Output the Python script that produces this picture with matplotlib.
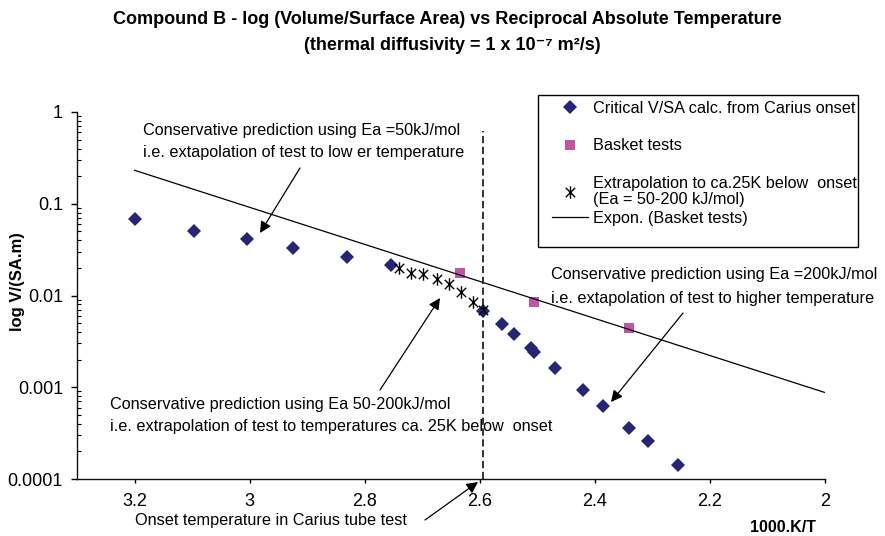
import numpy as np
import matplotlib
matplotlib.use('Agg')
import matplotlib.pyplot as plt
from matplotlib.path import Path
from matplotlib.patches import Rectangle
from matplotlib.ticker import FixedLocator, LogLocator, NullFormatter

plt.rcParams['font.family'] = ['Liberation Sans', 'DejaVu Sans']

# ---------------- data ----------------
carius_x = [3.200, 3.097, 3.005, 2.925, 2.831, 2.755, 2.594, 2.562, 2.541,
            2.511, 2.506, 2.470, 2.420, 2.385, 2.340, 2.308, 2.255]
carius_y = [0.068, 0.051, 0.041, 0.0327, 0.026, 0.0213, 0.0067, 0.0049,
            0.00385, 0.0027, 0.00244, 0.00163, 0.00094, 0.00063, 0.00036,
            0.00026, 0.000142]

basket_x = [2.635, 2.506, 2.341]
basket_y = [0.0174, 0.0086, 0.0044]

extrap_x = [2.741, 2.720, 2.698, 2.675, 2.654, 2.633, 2.611, 2.594]
extrap_y = [0.0197, 0.0178, 0.0170, 0.0150, 0.0135, 0.0108, 0.0084, 0.0069]

trend_x_range = [3.2, 2.0]
onset_x = 2.594

x_ticks = [3.2, 3.0, 2.8, 2.6, 2.4, 2.2, 2.0]
x_tick_labels = ['3.2', '3', '2.8', '2.6', '2.4', '2.2', '2']
y_ticks = [1, 0.1, 0.01, 0.001, 0.0001]
y_tick_labels = ['1', '0.1', '0.01', '0.001', '0.0001']

legend_labels = ['Critical V/SA calc. from Carius onset',
                 'Basket tests',
                 'Extrapolation to ca.25K below  onset\n(Ea = 50-200 kJ/mol)',
                 'Expon. (Basket tests)']

# ---------------- figure ----------------
W, H = 885, 536
fig = plt.figure(figsize=(W / 100, H / 100), dpi=100)
fig.patch.set_facecolor('white')


def fx(px):
    return px / W


def fy(py):
    return 1 - py / H


ax = fig.add_axes([fx(77), fy(479), (825 - 77) / W, (479 - 112) / H])

# exponential trendline fitted to basket tests
coef = np.polyfit(basket_x, np.log(basket_y), 1)
tx = np.linspace(trend_x_range[0], trend_x_range[1], 50)
ty = np.exp(np.polyval(coef, tx))

star_path = Path([(0, -1), (0, 1), (-0.75, -0.75), (0.75, 0.75),
                  (-0.75, 0.75), (0.75, -0.75)],
                 [Path.MOVETO, Path.LINETO, Path.MOVETO, Path.LINETO,
                  Path.MOVETO, Path.LINETO])

h1, = ax.plot(carius_x, carius_y, linestyle='none', marker='D',
              markersize=6.8, color='#262673', markeredgewidth=0)
h2, = ax.plot(basket_x, basket_y, linestyle='none', marker='s',
              markersize=6.5, color='#BE55A5', markeredgewidth=0)
h3, = ax.plot(extrap_x, extrap_y, linestyle='none', marker=star_path,
              markersize=9, markerfacecolor='none', markeredgecolor='black',
              markeredgewidth=1.0)
h4, = ax.plot(tx, ty, color='black', linewidth=0.9)

ax.plot([onset_x, onset_x], [1e-4, 0.62], color='#222222', linewidth=1.3,
        linestyle=(0, (4, 2)))

ax.set_yscale('log')
ax.set_xlim(3.3, 2.0)
ax.set_ylim(1e-4, 1)

ax.xaxis.set_major_locator(FixedLocator(x_ticks))
ax.set_xticklabels(x_tick_labels)
ax.yaxis.set_major_locator(FixedLocator(y_ticks))
ax.set_yticklabels(y_tick_labels)
ax.yaxis.set_minor_locator(LogLocator(base=10, subs=np.arange(2, 10)))
ax.yaxis.set_minor_formatter(NullFormatter())

ax.tick_params(axis='x', which='major', direction='out', length=3,
               width=1, labelsize=13, pad=7)
ax.tick_params(axis='y', which='major', direction='out', length=4,
               width=1, labelsize=13, pad=6)
ax.tick_params(axis='y', which='minor', direction='in', length=3, width=0.8)

for s in ['top', 'right']:
    ax.spines[s].set_visible(False)
for s in ['left', 'bottom']:
    ax.spines[s].set_linewidth(1.0)
    ax.spines[s].set_color('#111111')

ax.set_ylabel('log V/(SA.m)', fontsize=12, fontweight='bold')
ax.yaxis.set_label_coords((25 - 77) / (825 - 77), (479 - 282) / (479 - 112))

fig.text(fx(783), fy(528), '1000.K/T', fontsize=11.5, fontweight='bold',
         ha='center', va='center')

# titles
fig.text(fx(447), fy(20),
         'Compound B - log (Volume/Surface Area) vs Reciprocal Absolute Temperature',
         fontsize=13, fontweight='bold', ha='center', va='center')
fig.text(fx(452), fy(46),
         '(thermal diffusivity = 1 x 10\u207b\u2077 m\u00b2/s)',
         fontsize=13, fontweight='bold', ha='center', va='center')

# legend (frame drawn separately to match the reference box)
fig.add_artist(Rectangle((fx(538), fy(247)), (858 - 538) / W, (247 - 95) / H,
                         transform=fig.transFigure, fill=False,
                         edgecolor='black', linewidth=1.0))
leg_kw = dict(loc='upper left', fontsize=11.7, frameon=False, borderpad=0,
              borderaxespad=0, handlelength=2.2, handletextpad=0.3)
legA = fig.legend([h1, h2, h3], legend_labels[:3],
                  bbox_to_anchor=(fx(552), fy(101)), labelspacing=1.37, **leg_kw)
legA.get_texts()[2].set_linespacing(1.15)
legB = fig.legend([h4], legend_labels[3:],
                  bbox_to_anchor=(fx(552), fy(211)), **leg_kw)

# annotations
ann_fs = 11.7
arrow = dict(arrowstyle='-|>', color='black', lw=0.9, mutation_scale=17,
             shrinkA=0, shrinkB=0)


def note(lines, left, ys):
    for t, y in zip(lines, ys):
        fig.text(fx(left), fy(y), t, fontsize=ann_fs, ha='left', va='center')


def arr(start, tip):
    ax.annotate('', xy=(fx(tip[0]), fy(tip[1])), xycoords='figure fraction',
                xytext=(fx(start[0]), fy(start[1])), textcoords='figure fraction',
                arrowprops=arrow)


note(['Conservative prediction using Ea =50kJ/mol',
      'i.e. extapolation of test to low er temperature'], 143, [130, 153])
arr((300, 168), (260, 233))

note(['Conservative prediction using Ea =200kJ/mol',
      'i.e. extapolation of test to higher temperature'], 551, [275, 298])
arr((683, 313), (611, 402))

note(['Conservative prediction using Ea 50-200kJ/mol',
      'i.e. extrapolation of test to temperatures ca. 25K below  onset'],
     110, [404, 427])
arr((380, 390), (440, 298))

note(['Onset temperature in Carius tube test'], 135, [521])
arr((425, 520), (478, 482))

fig.savefig('out.png', dpi=100, facecolor='white')
